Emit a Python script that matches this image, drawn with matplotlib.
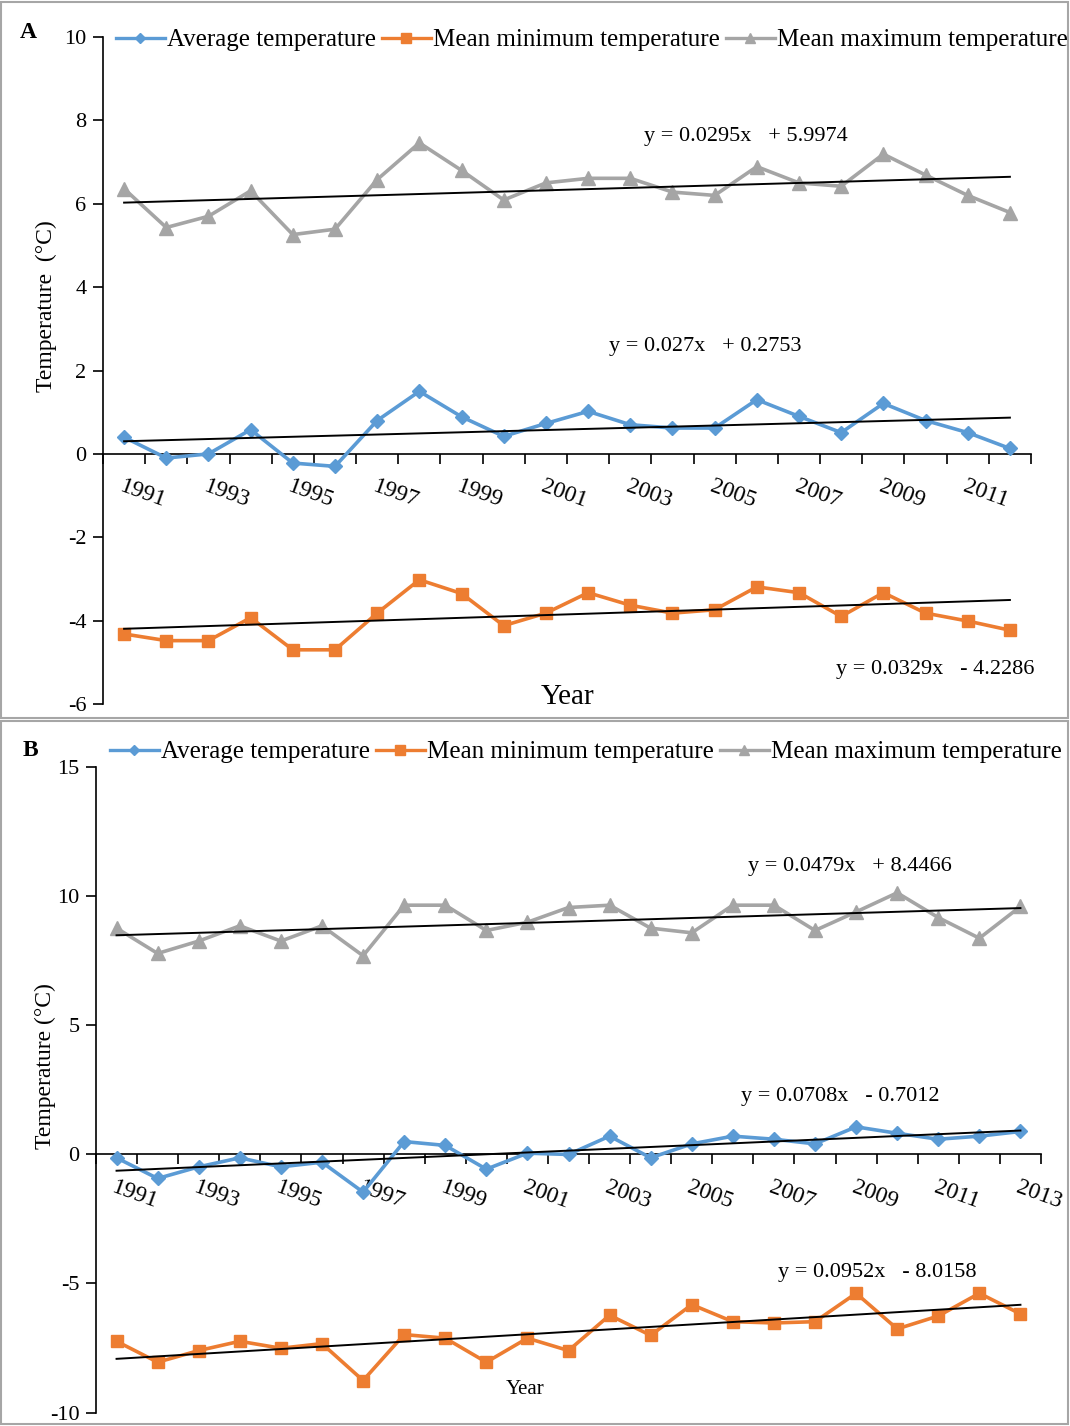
import matplotlib
matplotlib.use('Agg')
import matplotlib.pyplot as plt
from matplotlib.lines import Line2D
from matplotlib.patches import Rectangle
import numpy as np

plt.rcParams['font.family'] = ['Liberation Serif', 'DejaVu Serif']
plt.rcParams['axes.unicode_minus'] = False

W, H = 1070, 1426

# ---- panel A: 1991-2012 ----
years_a = list(range(1991, 2013))
avg_a = [0.40, -0.10, 0.0, 0.58, -0.22, -0.30, 0.80, 1.50, 0.89, 0.42, 0.73,
         1.02, 0.70, 0.62, 0.62, 1.30, 0.90, 0.51, 1.21, 0.80, 0.51, 0.13]
min_a = [-4.32, -4.48, -4.48, -3.93, -4.70, -4.70, -3.82, -3.02, -3.35, -4.12, -3.82,
         -3.33, -3.63, -3.82, -3.74, -3.19, -3.33, -3.90, -3.33, -3.82, -4.01, -4.23]
max_a = [6.36, 5.43, 5.70, 6.31, 5.26, 5.39, 6.58, 7.46, 6.80, 6.09, 6.50,
         6.61, 6.61, 6.28, 6.20, 6.89, 6.50, 6.42, 7.19, 6.69, 6.20, 5.79]
# linear trends (slope, intercept), x = 1..n
fit_avg_a = (0.027, 0.2753)
fit_min_a = (0.0329, -4.2286)
fit_max_a = (0.0295, 5.9974)

# ---- panel B: 1991-2013 ----
years_b = list(range(1991, 2014))
avg_b = [-0.13, -0.93, -0.48, -0.13, -0.48, -0.30, -1.46, 0.50, 0.35, -0.57, 0.05, 0.0,
         0.71, -0.13, 0.41, 0.71, 0.59, 0.41, 1.07, 0.82, 0.59, 0.71, 0.89]
min_b = [-7.24, -8.05, -7.60, -7.24, -7.51, -7.33, -8.76, -6.98, -7.12, -8.05, -7.12, -7.60,
         -6.23, -7.01, -5.82, -6.48, -6.53, -6.48, -5.38, -6.76, -6.26, -5.38, -6.18]
max_b = [8.77, 7.79, 8.27, 8.86, 8.27, 8.86, 7.70, 9.66, 9.66, 8.68, 9.00, 9.57,
         9.66, 8.77, 8.59, 9.66, 9.66, 8.68, 9.40, 10.14, 9.18, 8.38, 9.61]
fit_avg_b = (0.0708, -0.7012)
fit_min_b = (0.0952, -8.0158)
fit_max_b = (0.0479, 8.4466)

series_names = ['Average temperature', 'Mean minimum temperature', 'Mean maximum temperature']

BLUE = '#5b9bd5'
ORANGE = '#ed7d31'
GREY = '#a5a5a5'


def fx(x):
    return x / W


def fy(y):
    return 1 - y / H


def eq_text(fit):
    k, b = fit
    sign = '+' if b >= 0 else '-'
    return f'y = {k:g}x   {sign} {abs(b):g}'


def draw_panel(ax, years, avg, tmin, tmax, fits, ylim, yticks):
    x = np.arange(len(years))
    n = x + 1
    ax.plot(x, avg, color=BLUE, lw=2.6, marker='D', ms=7.5, zorder=3)
    ax.plot(x, tmin, color=ORANGE, lw=2.6, marker='s', ms=9, zorder=3)
    ax.plot(x, tmax, color=GREY, lw=2.6, marker='^', ms=10, zorder=3)
    for k, b in fits:
        ax.plot(x, k * n + b, color='black', lw=1.4, zorder=4)

    # x axis crosses at zero (set before styling ticks, it resets them)
    for s in ['top', 'right']:
        ax.spines[s].set_visible(False)
    ax.spines['bottom'].set_position(('data', 0))
    ax.spines['left'].set_linewidth(1.2)
    ax.spines['bottom'].set_linewidth(1.2)

    ax.set_xlim(-0.5, len(years) - 0.5)
    ax.set_ylim(*ylim)
    ax.set_yticks(yticks)
    ax.set_yticklabels([str(v) for v in yticks])
    ax.tick_params(axis='y', direction='out', length=7, width=1.2, labelsize=16, pad=5)

    # category boundaries carry the tick marks, labels sit on every other category
    ax.set_xticks(np.arange(len(years) + 1) - 0.5)
    ax.set_xticklabels([])
    ax.tick_params(axis='x', which='major', direction='out', length=7, width=1.2)
    ax.tick_params(axis='x', which='minor', length=0, labelsize=17, pad=16)
    ax.set_xticks(x[::2], minor=True)
    ax.set_xticklabels([str(y) for y in years[::2]], minor=True)
    plt.setp(ax.get_xticklabels(minor=True), rotation=-20, ha='left', va='top',
             rotation_mode='anchor')
    ax.set_facecolor('none')


def legend_handles():
    return [
        Line2D([], [], color=BLUE, lw=2.4, marker='D', ms=5),
        Line2D([], [], color=ORANGE, lw=2.4, marker='s', ms=7),
        Line2D([], [], color=GREY, lw=2.4, marker='^', ms=7),
    ]


fig = plt.figure(figsize=(W / 100, H / 100), dpi=100)

# panel frames
fig.add_artist(Rectangle((fx(1), fy(718)), fx(1067), 716 / H, transform=fig.transFigure,
                         fill=False, edgecolor='#a6a6a6', lw=1.5))
fig.add_artist(Rectangle((fx(1), fy(1424)), fx(1067), 703 / H, transform=fig.transFigure,
                         fill=False, edgecolor='#a6a6a6', lw=1.5))

leg_kw = dict(loc='center left', ncol=3, frameon=False, fontsize=18, handlelength=1.95,
              handletextpad=0.08, columnspacing=0.25, borderpad=0, borderaxespad=0)

# --- A ---
ax_a = fig.add_axes([fx(103), fy(704), fx(1031 - 103), (704 - 37) / H])
draw_panel(ax_a, years_a, avg_a, min_a, max_a, [fit_avg_a, fit_min_a, fit_max_a],
           (-6, 10), list(range(-6, 11, 2)))
fig.text(fx(28), fy(33), 'A', fontsize=17, fontweight='bold', ha='center', va='center')
fig.legend(legend_handles(), series_names, bbox_to_anchor=(fx(116), fy(40)), **leg_kw)
fig.text(fx(46), fy(306), 'Temperature  (°C)', rotation=90, fontsize=17, ha='center', va='center')
fig.text(fx(568), fy(697), 'Year', fontsize=21, ha='center', va='center')
fig.text(fx(746), fy(137), eq_text(fit_max_a), fontsize=16, ha='center', va='center')
fig.text(fx(705), fy(347), eq_text(fit_avg_a), fontsize=16, ha='center', va='center')
fig.text(fx(935), fy(670), eq_text(fit_min_a), fontsize=16, ha='center', va='center')

# --- B ---
ax_b = fig.add_axes([fx(96), fy(1412.5), fx(1041 - 96), (1412.5 - 767.4) / H])
draw_panel(ax_b, years_b, avg_b, min_b, max_b, [fit_avg_b, fit_min_b, fit_max_b],
           (-10, 15), list(range(-10, 16, 5)))
fig.text(fx(30), fy(751), 'B', fontsize=17, fontweight='bold', ha='center', va='center')
fig.legend(legend_handles(), series_names, bbox_to_anchor=(fx(110), fy(752)), **leg_kw)
fig.text(fx(45), fy(1066), 'Temperature (°C)', rotation=90, fontsize=17, ha='center', va='center')
fig.text(fx(525), fy(1390), 'Year', fontsize=15, ha='center', va='center')
fig.text(fx(850), fy(866), eq_text(fit_max_b), fontsize=16, ha='center', va='center')
fig.text(fx(840), fy(1096), eq_text(fit_avg_b), fontsize=16, ha='center', va='center')
fig.text(fx(877), fy(1272), eq_text(fit_min_b), fontsize=16, ha='center', va='center')

fig.savefig('out.png', dpi=100)
